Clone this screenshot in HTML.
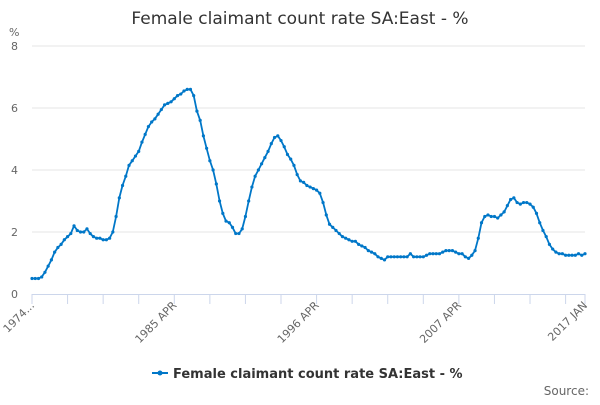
<!DOCTYPE html>
<html><head><meta charset="utf-8">
<style>
body{margin:0;background:#fff;font-family:"Liberation Sans",sans-serif;}
svg text{font-family:"DejaVu Sans","Liberation Sans",sans-serif;}
</style></head>
<body>
<svg id="chart" width="600" height="400" viewBox="0 0 600 400">
<text x="300" y="24" text-anchor="middle" font-size="17" fill="#333">Female claimant count rate SA:East - %</text>
<text x="9" y="36" font-size="11" fill="#666">%</text>
<g id="grid"></g>
<g id="xaxis"></g>
<g id="series"></g>
<g>
<line x1="152" y1="373" x2="168" y2="373" stroke="#0077c8" stroke-width="2"/>
<circle cx="160" cy="373" r="2.5" fill="#0077c8"/>
<text x="173" y="378" font-size="13" font-weight="bold" fill="#333">Female claimant count rate SA:East - %</text>
</g>
<text x="589" y="395" text-anchor="end" font-size="12" fill="#666">Source:</text>
</svg>
<script>
const values=[0.5,0.5,0.5,0.55,0.7,0.9,1.1,1.35,1.5,1.6,1.75,1.85,1.95,2.2,2.05,2.0,2.0,2.1,1.95,1.85,1.8,1.8,1.75,1.75,1.8,2.0,2.5,3.1,3.5,3.8,4.15,4.3,4.45,4.6,4.9,5.15,5.4,5.55,5.65,5.8,5.95,6.1,6.15,6.2,6.3,6.4,6.45,6.55,6.6,6.6,6.4,5.9,5.6,5.1,4.7,4.3,4.0,3.55,3.0,2.6,2.35,2.3,2.15,1.95,1.95,2.1,2.5,3.0,3.45,3.8,4.0,4.2,4.4,4.6,4.85,5.05,5.1,4.95,4.75,4.5,4.35,4.15,3.85,3.65,3.6,3.5,3.45,3.4,3.35,3.25,2.95,2.55,2.25,2.15,2.05,1.95,1.85,1.8,1.75,1.7,1.7,1.6,1.55,1.5,1.4,1.35,1.3,1.2,1.15,1.1,1.2,1.2,1.2,1.2,1.2,1.2,1.2,1.3,1.2,1.2,1.2,1.2,1.25,1.3,1.3,1.3,1.3,1.35,1.4,1.4,1.4,1.35,1.3,1.3,1.2,1.15,1.25,1.4,1.8,2.3,2.5,2.55,2.5,2.5,2.45,2.55,2.65,2.85,3.05,3.1,2.95,2.9,2.95,2.95,2.9,2.8,2.6,2.3,2.05,1.85,1.6,1.45,1.35,1.3,1.3,1.25,1.25,1.25,1.25,1.3,1.25,1.3];
const yTicks=[0,2,4,6,8];
const xLabels=["1974...","1985 APR","1996 APR","2007 APR","2017 JAN"];
const xLabelIdx=[0,44,88,132,171];
const NS="http://www.w3.org/2000/svg";
const X0=32,X1=585,Y0=294,Y1=46,YMAX=8;
const n=values.length;
function xs(i){return X0+(X1-X0)*i/(n-1);}
function ys(v){return Y0-(Y0-Y1)*v/YMAX;}
function mk(tag,attrs,parent){const e=document.createElementNS(NS,tag);for(const k in attrs)e.setAttribute(k,attrs[k]);parent.appendChild(e);return e;}
const grid=document.getElementById('grid');
yTicks.forEach(t=>{
  if(t>0){const l=mk('line',{x1:X0,x2:X1,y1:ys(t),y2:ys(t),stroke:'#e6e6e6','stroke-width':1},grid);
  
  }
  const tx=mk('text',{x:18,y:ys(t)+4,'text-anchor':'end','font-size':11,fill:'#666'},grid);
  tx.textContent=t;
  
  
});
const xa=document.getElementById('xaxis');
const axl=mk('line',{x1:X0,x2:X1,y1:Y0+0.5,y2:Y0+0.5,stroke:'#ccd6eb','stroke-width':1},xa);


for(let i=0;i<n;i+=11){
  const tk=mk('line',{x1:xs(i),x2:xs(i),y1:Y0,y2:Y0+10,stroke:'#ccd6eb','stroke-width':1},xa);
  
  
}
const tkl=mk('line',{x1:xs(n-1),x2:xs(n-1),y1:Y0,y2:Y0+10,stroke:'#ccd6eb','stroke-width':1},xa);


xLabels.forEach((s,k)=>{
  const x=xs(xLabelIdx[k]),y=Y0+12;
  const tx=mk('text',{x:x+3,y:y,'text-anchor':'end','font-size':11,fill:'#666',transform:`rotate(-45 ${x+3} ${y})`},xa);
  tx.textContent=s;
  
  
});
const sg=document.getElementById('series');
const pts=values.map((v,i)=>xs(i).toFixed(1)+','+ys(v).toFixed(1)).join(' ');
const pl=mk('polyline',{points:pts,fill:'none',stroke:'#0077c8','stroke-width':1.8,'stroke-linejoin':'round'},sg);


values.forEach((v,i)=>{
  const c=mk('circle',{cx:xs(i),cy:ys(v),r:1.6,fill:'#0077c8'},sg);
  
  
});
</script>
</body></html>
